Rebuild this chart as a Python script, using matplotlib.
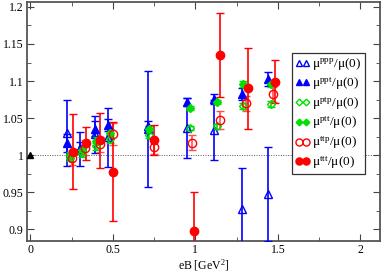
import numpy as np
import matplotlib
matplotlib.use('Agg')
import matplotlib.pyplot as plt
from matplotlib.ticker import MultipleLocator, FuncFormatter

plt.rcParams['font.family'] = ['Liberation Serif', 'DejaVu Serif']
plt.rcParams['mathtext.fontset'] = 'custom'
plt.rcParams['mathtext.rm'] = 'Liberation Serif'
plt.rcParams['mathtext.it'] = 'Liberation Serif:italic'

# data
x_ppp = [0.22, 0.30, 0.39, 0.47, 0.71, 0.95, 1.11, 1.28, 1.44]
y_ppp = [1.030, 1.008, 1.028, 1.024, 1.035, 1.037, 1.034, 0.928, 0.948]
e_ppp = [0.045, 0.023, 0.025, 0.040, 0.078, 0.040, 0.040, 0.055, 0.063]

x_ppt = [0.22, 0.30, 0.39, 0.47, 0.71, 0.95, 1.11, 1.28, 1.44]
y_ppt = [1.017, 1.010, 1.036, 1.041, 1.040, 1.072, 1.076, 1.083, 1.103]
e_ppt = [0.012, 0.008, 0.010, 0.008, 0.006, 0.005, 0.007, 0.008, 0.009]

x_ptp = [0.24, 0.31, 0.40, 0.48, 0.72, 0.97, 1.13, 1.29, 1.46]
y_ptp = [0.997, 1.003, 1.012, 1.022, 1.027, 1.037, 1.039, 1.066, 1.069]
e_ptp = [0.005, 0.005, 0.005, 0.005, 0.004, 0.003, 0.003, 0.004, 0.004]

x_ptt = [0.24, 0.31, 0.40, 0.48, 0.72, 0.97, 1.13, 1.29, 1.46]
y_ptt = [1.000, 1.007, 1.019, 1.030, 1.035, 1.064, 1.072, 1.096, 1.096]
e_ptt = [0.005, 0.005, 0.005, 0.005, 0.004, 0.003, 0.003, 0.004, 0.004]

x_ttp = [0.25, 0.33, 0.42, 0.50, 0.75, 0.98, 1.15, 1.31, 1.47]
y_ttp = [0.997, 1.010, 1.015, 1.029, 1.011, 1.017, 1.048, 1.070, 1.082]
e_ttp = [0.010, 0.010, 0.010, 0.015, 0.009, 0.010, 0.012, 0.010, 0.010]

x_ttt = [0.26, 0.34, 0.42, 0.50, 0.75, 0.99, 1.15, 1.32, 1.48]
y_ttt = [1.005, 1.016, 1.020, 0.978, 1.021, 0.898, 1.135, 1.090, 1.099]
e_ttt = [0.050, 0.022, 0.037, 0.067, 0.020, 0.052, 0.057, 0.055, 0.029]

x_zero = [0.0]
y_zero = [1.0]

fig = plt.figure(figsize=(3.82, 2.75), dpi=100)
ax = fig.add_axes([0.071, 0.125, 0.924, 0.869])

ax.axhline(1.0, xmin=0.02/2.14, color='#555555', lw=0.7, ls=(0, (1, 1.5)), zorder=1)

series = [
    (x_ppp, y_ppp, e_ppp, '^', 'none', 'blue', 'blue', 'ppp'),
    (x_ppt, y_ppt, e_ppt, '^', 'blue', 'blue', 'blue', 'ppt'),
    (x_ptp, y_ptp, e_ptp, 'D', 'none', '#00e000', '#00e000', 'ptp'),
    (x_ptt, y_ptt, e_ptt, 'D', '#00e000', '#00e000', '#00e000', 'ptt'),
    (x_ttp, y_ttp, e_ttp, 'o', 'none', 'red', '#ff5050', 'ttp'),
    (x_ttt, y_ttt, e_ttt, 'o', 'red', 'red', 'red', 'ttt'),
]
sizes = {'^': 5.5, 'D': 4.0, 'o': 6.0}

handles = []
labels = []
for xs, ys, es, mk, fc, mc, ec, name in series:
    c = ax.errorbar(xs, ys, yerr=es, fmt=mk, mfc=fc, mec=mc, ms=sizes[mk],
                    mew=1.0, ecolor=ec, elinewidth=1.2, capsize=3, capthick=1.2,
                    zorder=3)
    handles.append(c[0])
    labels.append(r'$\mathrm{\mu^{%s}/\mu(0)}$' % name)

ax.plot(x_zero, y_zero, '^', color='black', ms=5, zorder=4)

ax.set_xlim(-0.02, 2.12)
ax.set_ylim(0.885, 1.207)
ax.xaxis.set_major_locator(MultipleLocator(0.5))
ax.xaxis.set_minor_locator(MultipleLocator(0.25))
ax.yaxis.set_major_locator(MultipleLocator(0.05))
ax.yaxis.set_minor_locator(MultipleLocator(0.025))
fmt = FuncFormatter(lambda v, p: '%g' % round(v, 3))
ax.xaxis.set_major_formatter(fmt)
ax.yaxis.set_major_formatter(fmt)
ax.tick_params(which='both', direction='in', top=True, right=True, labelsize=8.5,
               color='#444444', pad=2.5)
ax.tick_params(which='major', length=5)
ax.tick_params(which='minor', length=3)
for s in ax.spines.values():
    s.set_color('#555555')
    s.set_linewidth(1.3)

ax.set_xlabel(r'eB [GeV$^2$]', fontsize=8.5, labelpad=1)

leg = ax.legend(handles, labels, loc='upper left', bbox_to_anchor=(0.75, 0.785),
                numpoints=2, fontsize=9.5, fancybox=False, framealpha=1,
                edgecolor='#333333', handlelength=1.1, handletextpad=0.2,
                borderpad=0.25, labelspacing=0.22, borderaxespad=0,
                markerscale=0.85)
leg.get_frame().set_linewidth(0.9)

fig.savefig('out.png', dpi=100)
